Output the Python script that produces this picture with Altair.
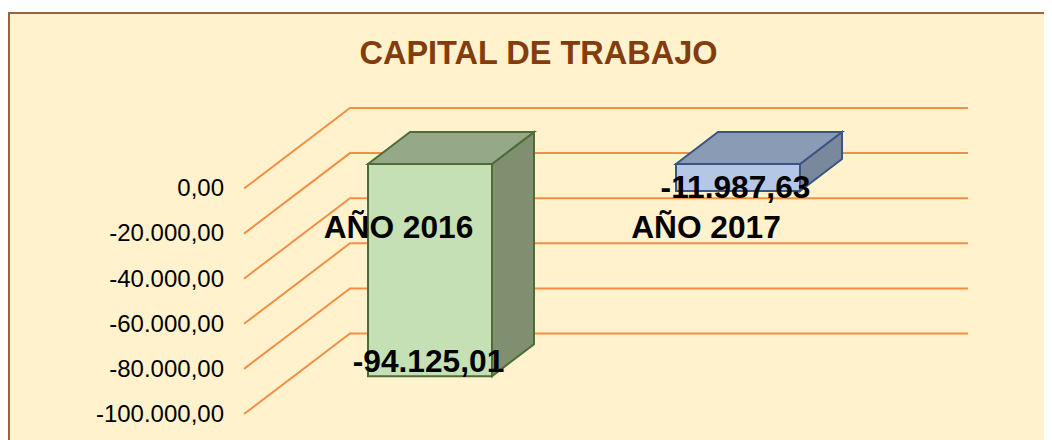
import altair as alt
import pandas as pd

TITLE = "CAPITAL DE TRABAJO"
TICKS = [0, -20000, -40000, -60000, -80000, -100000]
TICK_LABELS = ["0,00", "-20.000,00", "-40.000,00", "-60.000,00", "-80.000,00", "-100.000,00"]
CATEGORIES = ["AÑO 2016", "AÑO 2017"]
VALUES = [-94125.01, -11987.63]
VALUE_LABELS = ["-94.125,01", "-11.987,63"]

BG = "#FFF2CC"
BORDER = "#A0623A"
GRID = "#F58E47"
FRONT = ["#C5E0B4", "#B4C7E7"]
TOP = ["#95A988", "#8A9BB5"]
SIDE = ["#7F8F70", "#7A889C"]
STROKE = ["#4F6B38", "#3A5585"]

W, H = 1036, 432
PX = lambda x: x - 8          # screen x -> domain x
ZERO_FRONT = 188.5
UNIT = 225.5 / 100000.0       # screen px per value unit
DEPTH_X, DEPTH_Y = 106.0, 80.5


def val(screen_y):
    """screen y -> value units on the chart's y scale"""
    return (ZERO_FRONT - screen_y) / UNIT


xs = alt.Scale(domain=[0, W], range=[0, W])
ys = alt.Scale(domain=[val(8 + H), val(8)], range=[H, 0])
X = lambda f: alt.X(f, type="quantitative", scale=xs, axis=None)
Y = lambda f: alt.Y(f, type="quantitative", scale=ys, axis=None)

panel = alt.Chart(pd.DataFrame({"x": [PX(9)], "x2": [PX(1100)], "y": [val(13)], "y2": [val(500)]})).mark_rect(
    fill=BG, stroke=BORDER, strokeWidth=2, clip=True
).encode(x=X("x"), x2="x2", y=Y("y"), y2="y2")

grid_rows = []
for i, t in enumerate(TICKS):
    y_front = t
    y_back = t + DEPTH_Y / UNIT
    grid_rows += [
        {"g": i, "o": 0, "x": PX(244), "y": y_front},
        {"g": i, "o": 1, "x": PX(244 + DEPTH_X), "y": y_back},
        {"g": i, "o": 2, "x": PX(968), "y": y_back},
    ]
grid = alt.Chart(pd.DataFrame(grid_rows)).mark_line(color=GRID, strokeWidth=2).encode(
    x=X("x"), y=Y("y"), detail="g:N", order="o:Q"
)

tick_df = pd.DataFrame({"x": [PX(224)] * len(TICKS), "y": [t - 0.8 / UNIT for t in TICKS], "t": TICK_LABELS})
tick_text = alt.Chart(tick_df).mark_text(
    align="right", baseline="middle", font="Liberation Sans", fontSize=24, color="#000000"
).encode(x=X("x"), y=Y("y"), text="t:N")

BAR_LEFT = [368, 676]
BAR_W = 124
FRONT_LIFT = 24.5
BAR_DX, BAR_DY = 42, 32
layers = [panel, grid, tick_text]
for i, v in enumerate(VALUES):
    l = PX(BAR_LEFT[i])
    r = l + BAR_W
    top_v = FRONT_LIFT / UNIT
    bot_v = top_v + v
    d = BAR_DY / UNIT
    side = pd.DataFrame({"x": [r, r + BAR_DX], "y": [top_v, top_v + d], "y2": [bot_v, bot_v + d]})
    top = pd.DataFrame({"y": [top_v, top_v + d], "x": [l, l + BAR_DX], "x2": [r, r + BAR_DX]})
    front = pd.DataFrame({"x": [l], "x2": [r], "y": [top_v], "y2": [bot_v]})
    layers.append(alt.Chart(side).mark_area(fill=SIDE[i], stroke=STROKE[i], strokeWidth=2, interpolate="linear").encode(
        x=X("x"), y=Y("y"), y2="y2"))
    layers.append(alt.Chart(top).mark_area(orient="horizontal", fill=TOP[i], stroke=STROKE[i], strokeWidth=2, interpolate="linear").encode(
        y=Y("y"), x=X("x"), x2="x2"))
    layers.append(alt.Chart(front).mark_rect(fill=FRONT[i], stroke=STROKE[i], strokeWidth=2).encode(
        x=X("x"), x2="x2", y=Y("y"), y2="y2"))

labels = pd.DataFrame({
    "x": [PX(398.5), PX(706), PX(428.5), PX(735.5)],
    "y": [val(228), val(228), val(362), val(187.5)],
    "t": CATEGORIES + VALUE_LABELS,
})
label_text = alt.Chart(labels).mark_text(
    align="center", baseline="middle", font="Liberation Sans", fontSize=31.7, fontWeight="bold", color="#000000"
).encode(x=X("x"), y=Y("y"), text="t:N")

title_df = pd.DataFrame({"x": [PX(538.5)], "y": [val(54)], "t": [TITLE]})
title_text = alt.Chart(title_df).mark_text(
    align="center", baseline="middle", font="Liberation Sans", fontSize=32.5, fontWeight="bold", color="#843C0C"
).encode(x=X("x"), y=Y("y"), text="t:N")

chart = alt.layer(*layers, label_text, title_text).properties(
    width=W, height=H, padding=0, background="#FFFFFF"
).configure_view(stroke=None)

chart.save("out.html", embed_options={"renderer": "svg", "actions": False})
